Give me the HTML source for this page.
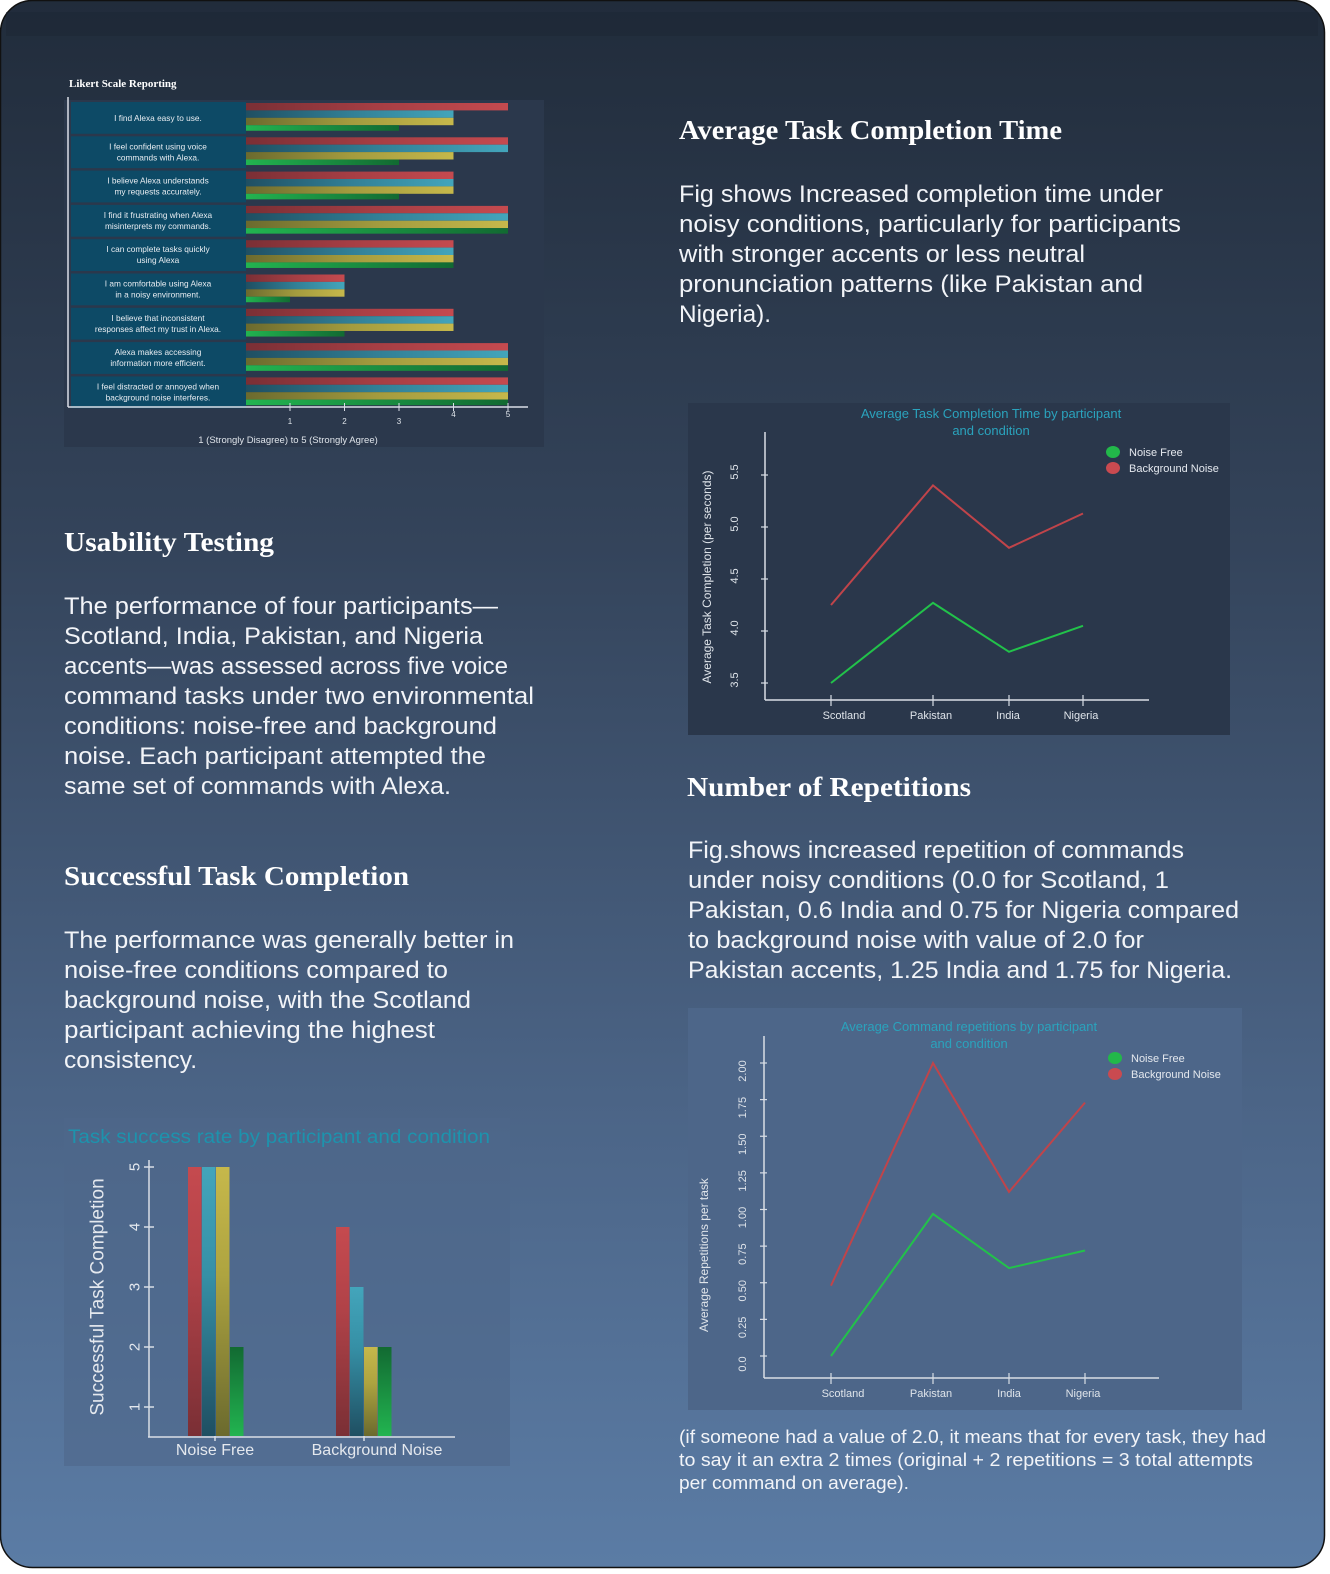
<!DOCTYPE html>
<html><head><meta charset="utf-8"><style>
html,body{margin:0;padding:0;background:#fff;}
svg{display:block;}
.h{font-family:"Liberation Serif",serif;font-weight:bold;fill:#fff;}
.b{font-family:"Liberation Sans",sans-serif;fill:#f2f4f8;}
.s{font-family:"Liberation Sans",sans-serif;fill:#dfe4ea;}
</style></head><body>
<svg id="page" width="1330" height="1574" viewBox="0 0 1330 1574" xmlns="http://www.w3.org/2000/svg">
<defs>
<linearGradient id="cardg" x1="0" y1="0" x2="0" y2="1">
<stop offset="0" stop-color="#212c3b"/><stop offset="0.35" stop-color="#34445b"/><stop offset="0.7" stop-color="#4b6486"/><stop offset="1" stop-color="#5b7ca5"/></linearGradient>
<linearGradient id="gr-red" x1="0" x2="1"><stop offset="0" stop-color="#7a2f35"/><stop offset="0.5" stop-color="#a63e44"/><stop offset="1" stop-color="#c54a4f"/></linearGradient>
<linearGradient id="gr-blue" x1="0" x2="1"><stop offset="0" stop-color="#1f4f62"/><stop offset="0.5" stop-color="#327f95"/><stop offset="1" stop-color="#43a5bb"/></linearGradient>
<linearGradient id="gr-yellow" x1="0" x2="1"><stop offset="0" stop-color="#6b6a2e"/><stop offset="0.5" stop-color="#a39b3e"/><stop offset="1" stop-color="#c6b84b"/></linearGradient>
<linearGradient id="gr-green" x1="0" x2="1"><stop offset="0" stop-color="#22b450"/><stop offset="1" stop-color="#126a32"/></linearGradient>
<linearGradient id="gv-red" x1="0" y1="1" x2="0" y2="0"><stop offset="0" stop-color="#7a2f35"/><stop offset="0.6" stop-color="#b04248"/><stop offset="1" stop-color="#c54a4f"/></linearGradient>
<linearGradient id="gv-blue" x1="0" y1="1" x2="0" y2="0"><stop offset="0" stop-color="#1f4f62"/><stop offset="0.6" stop-color="#3690a6"/><stop offset="1" stop-color="#43a5bb"/></linearGradient>
<linearGradient id="gv-yellow" x1="0" y1="1" x2="0" y2="0"><stop offset="0" stop-color="#6b6a2e"/><stop offset="0.6" stop-color="#aea440"/><stop offset="1" stop-color="#c6b84b"/></linearGradient>
<linearGradient id="gv-green" x1="0" y1="1" x2="0" y2="0"><stop offset="0" stop-color="#22b450"/><stop offset="1" stop-color="#126a32"/></linearGradient>
</defs>
<rect x="0.5" y="0.5" width="1324" height="1567" rx="32" fill="url(#cardg)" stroke="#111" stroke-width="1.5"/>
<rect x="6" y="12" width="1312" height="24" fill="#1c2633" opacity="0.5"/>

<text class="h" x="679" y="139" font-size="27" textLength="383" lengthAdjust="spacingAndGlyphs">Average Task Completion Time</text>
<g class="b" font-size="24">
<text x="679" y="202" textLength="484" lengthAdjust="spacingAndGlyphs">Fig shows Increased completion time under</text>
<text x="679" y="232" textLength="502" lengthAdjust="spacingAndGlyphs">noisy conditions, particularly for participants</text>
<text x="679" y="262" textLength="406" lengthAdjust="spacingAndGlyphs">with stronger accents or less neutral</text>
<text x="679" y="292" textLength="464" lengthAdjust="spacingAndGlyphs">pronunciation patterns (like Pakistan and</text>
<text x="679" y="322" textLength="92" lengthAdjust="spacingAndGlyphs">Nigeria).</text>
</g>
<text class="h" x="64" y="551" font-size="27" textLength="210" lengthAdjust="spacingAndGlyphs">Usability Testing</text>
<g class="b" font-size="24">
<text x="64" y="614" textLength="434" lengthAdjust="spacingAndGlyphs">The performance of four participants—</text>
<text x="64" y="644" textLength="419" lengthAdjust="spacingAndGlyphs">Scotland, India, Pakistan, and Nigeria</text>
<text x="64" y="674" textLength="444" lengthAdjust="spacingAndGlyphs">accents—was assessed across five voice</text>
<text x="64" y="704" textLength="470" lengthAdjust="spacingAndGlyphs">command tasks under two environmental</text>
<text x="64" y="734" textLength="433" lengthAdjust="spacingAndGlyphs">conditions: noise-free and background</text>
<text x="64" y="764" textLength="422" lengthAdjust="spacingAndGlyphs">noise. Each participant attempted the</text>
<text x="64" y="794" textLength="387" lengthAdjust="spacingAndGlyphs">same set of commands with Alexa.</text>
</g>
<text class="h" x="64" y="885" font-size="27" textLength="345" lengthAdjust="spacingAndGlyphs">Successful Task Completion</text>
<g class="b" font-size="24">
<text x="64" y="948" textLength="450" lengthAdjust="spacingAndGlyphs">The performance was generally better in</text>
<text x="64" y="978" textLength="384" lengthAdjust="spacingAndGlyphs">noise-free conditions compared to</text>
<text x="64" y="1008" textLength="407" lengthAdjust="spacingAndGlyphs">background noise, with the Scotland</text>
<text x="64" y="1038" textLength="371" lengthAdjust="spacingAndGlyphs">participant achieving the highest</text>
<text x="64" y="1068" textLength="133" lengthAdjust="spacingAndGlyphs">consistency.</text>
</g>
<text class="h" x="687" y="796" font-size="27" textLength="284" lengthAdjust="spacingAndGlyphs">Number of Repetitions</text>
<g class="b" font-size="24">
<text x="688" y="858" textLength="496" lengthAdjust="spacingAndGlyphs">Fig.shows increased repetition of commands</text>
<text x="688" y="888" textLength="481" lengthAdjust="spacingAndGlyphs">under noisy conditions (0.0 for Scotland, 1</text>
<text x="688" y="918" textLength="551" lengthAdjust="spacingAndGlyphs">Pakistan, 0.6 India and 0.75 for Nigeria compared</text>
<text x="688" y="948" textLength="456" lengthAdjust="spacingAndGlyphs">to background noise with value of 2.0 for</text>
<text x="688" y="978" textLength="544" lengthAdjust="spacingAndGlyphs">Pakistan accents, 1.25 India and 1.75 for Nigeria.</text>
</g>
<g class="b" font-size="18">
<text x="679" y="1443" textLength="587" lengthAdjust="spacingAndGlyphs">(if someone had a value of 2.0, it means that for every task, they had</text>
<text x="679" y="1466" textLength="574" lengthAdjust="spacingAndGlyphs">to say it an extra 2 times (original + 2 repetitions = 3 total attempts</text>
<text x="679" y="1489" textLength="230" lengthAdjust="spacingAndGlyphs">per command on average).</text>
</g>

<g id="likert"></g>
<g id="bars"></g>
<g id="time"></g>
<g id="reps"></g>
</svg>
<script>
const likertQuestions = [
 ["I find Alexa easy to use."],
 ["I feel confident using voice","commands with Alexa."],
 ["I believe Alexa understands","my requests accurately."],
 ["I find it frustrating when Alexa","misinterprets my commands."],
 ["I can complete tasks quickly","using Alexa"],
 ["I am comfortable using Alexa","in a noisy environment."],
 ["I believe that inconsistent","responses affect my trust in Alexa."],
 ["Alexa makes accessing","information more efficient."],
 ["I feel distracted or annoyed when","background noise interferes."]
];
const likertRed    = [5,5,4,5,4,2,4,5,5];
const likertBlue   = [4,5,4,5,4,2,4,5,5];
const likertYellow = [4,4,4,5,4,2,4,5,5];
const likertGreen  = [3,3,3,5,4,1,2,5,5];
const likertTicks  = [1,2,3,4,5];

const successCategories = ["Noise Free","Background Noise"];
const successRed    = [5,4];
const successBlue   = [5,3];
const successYellow = [5,2];
const successGreen  = [2,2];
const successTicks  = [1,2,3,4,5];

const participants = ["Scotland","Pakistan","India","Nigeria"];
const timeNoiseFree  = [3.5,4.27,3.8,4.05];
const timeBackground = [4.25,5.4,4.8,5.13];
const timeTicks = ["3.5","4.0","4.5","5.0","5.5"];

const repNoiseFree  = [0.0,0.97,0.6,0.72];
const repBackground = [0.48,2.0,1.12,1.73];
const repTicks = ["0.0","0.25","0.50","0.75","1.00","1.25","1.50","1.75","2.00"];

const NS="http://www.w3.org/2000/svg";
function mk(parent,tag,attrs,text){const e=document.createElementNS(NS,tag);for(const k in attrs)e.setAttribute(k,attrs[k]);if(text!==undefined)e.textContent=text;parent.appendChild(e);return e;}
const AX="#d9dee6", FONT="Liberation Sans, sans-serif", TEAL="#2aa3bd";

(function(){
 const g=document.getElementById('likert');
 let e=mk(g,'rect',{x:64,y:100,width:480,height:347,fill:'#2b384c'});
 
 
 e=mk(g,'text',{x:69,y:87,'font-family':'Liberation Serif, serif','font-weight':'bold','font-size':11,fill:'#fff'},'Likert Scale Reporting');
 
 
 const xs=v=>290+(v-1)*54.5, x0=246, top=102, rowH=34.3, bh=7.4;
 const series=[[likertRed,'gr-red'],[likertBlue,'gr-blue'],[likertYellow,'gr-yellow'],[likertGreen,'gr-green']];
 likertQuestions.forEach((q,i)=>{
  const y=top+i*rowH;
  let r=mk(g,'rect',{x:71,y:y,width:175,height:rowH-2.5,fill:'#0d4a66'});
  
  
  q.forEach((line,j)=>{
   const ty = q.length===1 ? y+19 : y+13+j*11;
   let t=mk(g,'text',{x:158,y:ty,'text-anchor':'middle','font-family':FONT,'font-size':8.3,fill:'#e8edf2'},line);
   
   
  });
  series.forEach((s,k)=>{
   const v=s[0][i];
   let b=mk(g,'rect',{x:x0,y:y+1+k*bh,width:xs(v)-x0,height:k===3?bh*0.75:bh,fill:'url(#'+s[1]+')'});
   
   
  });
 });
 mk(g,'line',{x1:68,y1:97,x2:68,y2:407,stroke:AX,'stroke-width':1.5});
 mk(g,'line',{x1:68,y1:407,x2:528,y2:407,stroke:AX,'stroke-width':1.5});
 likertTicks.forEach(t=>{
  mk(g,'line',{x1:xs(t),y1:403,x2:xs(t),y2:411,stroke:AX,'stroke-width':1});
  let tl=mk(g,'text',{x:xs(t),y:t>=4?417:424,'text-anchor':'middle','font-family':FONT,'font-size':8,fill:'#dfe4ea'},String(t));
  
  
 });
 e=mk(g,'text',{x:288,y:443,'text-anchor':'middle','font-family':FONT,'font-size':9.5,fill:'#dfe4ea'},'1 (Strongly Disagree) to 5 (Strongly Agree)');
 
 
})();

(function(){
 const g=document.getElementById('bars');
 let e=mk(g,'rect',{x:64,y:1118,width:446,height:348,fill:'#4e688b',opacity:0.6});
 
 
 e=mk(g,'text',{x:68,y:1143,'font-family':FONT,'font-size':19,fill:'#1d93ad',textLength:422,lengthAdjust:'spacingAndGlyphs'},'Task success rate by participant and condition');
 
 
 const ys=v=>1407-(v-1)*60, base=1436;
 const cx=[215,364], bw=14;
 const series=[[successRed,'gv-red'],[successBlue,'gv-blue'],[successYellow,'gv-yellow'],[successGreen,'gv-green']];
 successCategories.forEach((c,i)=>{
  series.forEach((s,k)=>{
   const v=s[0][i];
   let b=mk(g,'rect',{x:cx[i]-27+k*bw-(i?1:0),y:ys(v),width:bw-0.5,height:base-ys(v),fill:'url(#'+s[1]+')'});
   
   
  });
  mk(g,'line',{x1:cx[i],y1:1436,x2:cx[i],y2:1441,stroke:AX,'stroke-width':1.5});
  let t=mk(g,'text',{x:cx[i]+(i?13:0),y:1455,'text-anchor':'middle','font-family':FONT,'font-size':16,fill:'#e4e8ee'},c);
  
  
 });
 mk(g,'line',{x1:149,y1:1160,x2:149,y2:1437,stroke:AX,'stroke-width':1.5});
 mk(g,'line',{x1:148,y1:1437,x2:455,y2:1437,stroke:AX,'stroke-width':1.5});
 successTicks.forEach(t=>{
  mk(g,'line',{x1:144,y1:ys(t),x2:154,y2:ys(t),stroke:AX,'stroke-width':1.5});
  let tl=mk(g,'text',{x:135,y:ys(t),'text-anchor':'middle','font-family':FONT,'font-size':15,fill:'#e4e8ee',transform:'rotate(-90 135 '+ys(t)+')','dominant-baseline':'central'},String(t));
  
  
 });
 e=mk(g,'text',{x:98,y:1297,'text-anchor':'middle','font-family':FONT,'font-size':19,fill:'#e4e8ee',transform:'rotate(-90 98 1297)','dominant-baseline':'central'},'Successful Task Completion');
 
 
})();

function lineChart(id,opt){
 const g=document.getElementById(id);
 let e=mk(g,'rect',{x:opt.px,y:opt.py,width:opt.pw,height:opt.ph,fill:opt.panel});
 
 
 opt.title.forEach((t,i)=>{
  let tt=mk(g,'text',{x:opt.tcx,y:opt.ty+i*17,'text-anchor':'middle','font-family':FONT,'font-size':13,fill:TEAL},t);
  
  
 });
 const ys=v=>opt.y0-(v-opt.v0)*opt.k;
 mk(g,'line',{x1:opt.ax,y1:opt.atop,x2:opt.ax,y2:opt.ay,stroke:AX,'stroke-width':1.5});
 mk(g,'line',{x1:opt.ax,y1:opt.ay,x2:opt.aend,y2:opt.ay,stroke:AX,'stroke-width':1.5});
 opt.ticks.forEach(t=>{
  const y=ys(parseFloat(t));
  mk(g,'line',{x1:opt.ax-4,y1:y,x2:opt.ax+3,y2:y,stroke:AX,'stroke-width':1.2});
  let tl=mk(g,'text',{x:opt.tlx,y:y+(opt.tshift||0),'text-anchor':'middle','font-family':FONT,'font-size':11,fill:'#dfe4ea',transform:'rotate(-90 '+opt.tlx+' '+(y+(opt.tshift||0))+')','dominant-baseline':'central'},t);
  
  
 });
 participants.forEach((p,i)=>{
  mk(g,'line',{x1:opt.xt[i],y1:opt.ay-5,x2:opt.xt[i],y2:opt.ay+6,stroke:AX,'stroke-width':1.2});
  let tl=mk(g,'text',{x:opt.xl[i],y:opt.ay+19,'text-anchor':'middle','font-family':FONT,'font-size':11,fill:'#dfe4ea'},p);
  
  
 });
 [[opt.red,'#c0444a','background-noise-line'],[opt.green,'#22c24a','noise-free-line']].forEach(s=>{
  const pts=s[0].map((v,i)=>opt.xt[i]+','+ys(v).toFixed(1)).join(' ');
  let l=mk(g,'polyline',{points:pts,fill:'none',stroke:s[1],'stroke-width':2});
  
  
 });
 [['Noise Free','#22b84a'],['Background Noise','#c94a50']].forEach((L,i)=>{
  let c=mk(g,'ellipse',{cx:opt.lx,cy:opt.ly+i*16,rx:7,ry:6,fill:L[1]});
  
  
  let t=mk(g,'text',{x:opt.lx+16,y:opt.ly+i*16+4,'font-family':FONT,'font-size':11,fill:'#e4e8ee'},L[0]);
  
  
 });
 e=mk(g,'text',{x:opt.ytx,y:opt.ytcy,'text-anchor':'middle','font-family':FONT,'font-size':12,fill:'#dfe4ea',transform:'rotate(-90 '+opt.ytx+' '+opt.ytcy+')','dominant-baseline':'central'},opt.ytitle);
 
 
}
lineChart('time',{px:688,py:403,pw:542,ph:332,panel:'#2a374b',title:['Average Task Completion Time by participant','and condition'],tcx:991,ty:418,
 ax:765,atop:432,ay:700,aend:1149,y0:631,v0:4.0,k:104,ticks:timeTicks,tlx:735,tshift:-3,
 xt:[831,933,1009,1083],xl:[844,931,1008,1081],red:timeBackground,green:timeNoiseFree,lx:1113,ly:452,
 ytx:707,ytcy:577,ytitle:'Average Task Completion (per seconds)'});
lineChart('reps',{px:688,py:1008,pw:554,ph:402,panel:'#4d6689',title:['Average Command repetitions by participant','and condition'],tcx:969,ty:1031,
 ax:764,atop:1036,ay:1378,aend:1159,y0:1356,v0:0,k:146.5,ticks:repTicks,tlx:743,tshift:8,
 xt:[831,933,1009,1085],xl:[843,931,1009,1083],red:repBackground,green:repNoiseFree,lx:1115,ly:1058,
 ytx:704,ytcy:1255,ytitle:'Average Repetitions per task'});
</script>
</body></html>
